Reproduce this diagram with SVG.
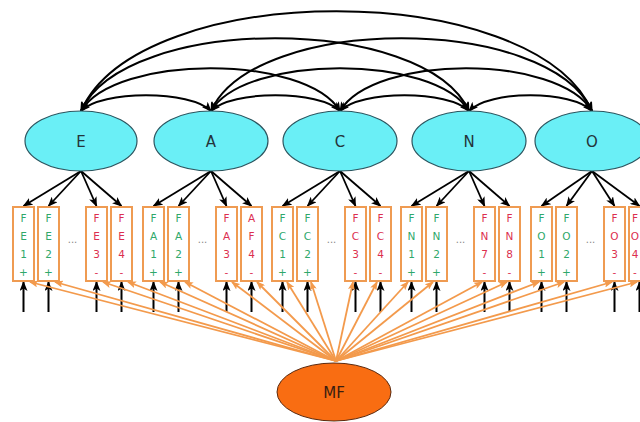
<svg xmlns="http://www.w3.org/2000/svg" width="640" height="422" viewBox="0 0 640 422">
  <defs>
    <marker id="ah" markerUnits="userSpaceOnUse" markerWidth="10" markerHeight="8" refX="9" refY="4" orient="auto-start-reverse">
      <path d="M0,0 L10,4 L0,8 L2.5,4 z" fill="#000"/>
    </marker>
    <marker id="oh" markerUnits="userSpaceOnUse" markerWidth="9" markerHeight="7" refX="8" refY="3.5" orient="auto">
      <path d="M0,0 L9,3.5 L0,7 L2,3.5 z" fill="#f39a4c"/>
    </marker>
    <style>
      .arc{fill:none;stroke:#000;stroke-width:2;marker-start:url(#ah);marker-end:url(#ah)}
      .load{stroke:#000;stroke-width:1.8;marker-end:url(#ah)}
      .err{stroke:#000;stroke-width:2;marker-end:url(#ah)}
      .mf{stroke:#f39a4c;stroke-width:1.8;marker-end:url(#oh)}
      .lat{fill:#6aeff6;stroke:#2c5660;stroke-width:1.2}
      .latt{font-family:"DejaVu Sans",sans-serif;font-size:15px;fill:#24343a;text-anchor:middle}
      .box{fill:#fff;stroke:#ef9b52;stroke-width:2}
      .bt{font-family:"DejaVu Sans",sans-serif;font-size:10.5px;text-anchor:middle}
      .p{fill:#2fa86a}
      .n{fill:#dc2f4f}
      .dots{font-family:"DejaVu Sans",sans-serif;font-size:10px;fill:#888;text-anchor:middle}
    </style>
  </defs>

  <!-- factor correlations -->
  <g id="correlations">
    <path class="arc" d="M81,111 C101,90 191,90 211,111"/>
    <path class="arc" d="M211,111 C231,90 320,90 340,111"/>
    <path class="arc" d="M340,111 C360,90 449,90 469,111"/>
    <path class="arc" d="M469,111 C489,90 572,90 592,111"/>
    <path class="arc" d="M81,111 C115,54 306,54 340,111"/>
    <path class="arc" d="M211,111 C245,54 435,54 469,111"/>
    <path class="arc" d="M340,111 C374,54 558,54 592,111"/>
    <path class="arc" d="M81,111 C125,14 425,14 469,111"/>
    <path class="arc" d="M211,111 C255,14 548,14 592,111"/>
    <path class="arc" d="M81,111 C140,-22 533,-22 592,111"/>
  </g>

  <!-- factor loadings -->
  <g id="loadings">
    <line class="load" x1="81" y1="171" x2="23.5" y2="206"/>
    <line class="load" x1="81" y1="171" x2="48.5" y2="206"/>
    <line class="load" x1="81" y1="171" x2="96.5" y2="206"/>
    <line class="load" x1="81" y1="171" x2="121.5" y2="206"/>
    <line class="load" x1="211" y1="171" x2="153.5" y2="206"/>
    <line class="load" x1="211" y1="171" x2="178.5" y2="206"/>
    <line class="load" x1="211" y1="171" x2="226.5" y2="206"/>
    <line class="load" x1="211" y1="171" x2="251.5" y2="206"/>
    <line class="load" x1="340" y1="171" x2="282.5" y2="206"/>
    <line class="load" x1="340" y1="171" x2="307.5" y2="206"/>
    <line class="load" x1="340" y1="171" x2="355.5" y2="206"/>
    <line class="load" x1="340" y1="171" x2="380.5" y2="206"/>
    <line class="load" x1="469" y1="171" x2="411.5" y2="206"/>
    <line class="load" x1="469" y1="171" x2="436.5" y2="206"/>
    <line class="load" x1="469" y1="171" x2="484.5" y2="206"/>
    <line class="load" x1="469" y1="171" x2="509.5" y2="206"/>
    <line class="load" x1="592" y1="171" x2="541.5" y2="206"/>
    <line class="load" x1="592" y1="171" x2="566.5" y2="206"/>
    <line class="load" x1="592" y1="171" x2="614.5" y2="206"/>
    <line class="load" x1="592" y1="171" x2="639.5" y2="206"/>
  </g>

  <!-- residual terms -->
  <g id="residuals">
    <line class="err" x1="23.5" y1="312" x2="23.5" y2="282"/>
    <line class="err" x1="48.5" y1="312" x2="48.5" y2="282"/>
    <line class="err" x1="96.5" y1="312" x2="96.5" y2="282"/>
    <line class="err" x1="121.5" y1="312" x2="121.5" y2="282"/>
    <line class="err" x1="153.5" y1="312" x2="153.5" y2="282"/>
    <line class="err" x1="178.5" y1="312" x2="178.5" y2="282"/>
    <line class="err" x1="226.5" y1="312" x2="226.5" y2="282"/>
    <line class="err" x1="251.5" y1="312" x2="251.5" y2="282"/>
    <line class="err" x1="282.5" y1="312" x2="282.5" y2="282"/>
    <line class="err" x1="307.5" y1="312" x2="307.5" y2="282"/>
    <line class="err" x1="355.5" y1="312" x2="355.5" y2="282"/>
    <line class="err" x1="380.5" y1="312" x2="380.5" y2="282"/>
    <line class="err" x1="411.5" y1="312" x2="411.5" y2="282"/>
    <line class="err" x1="436.5" y1="312" x2="436.5" y2="282"/>
    <line class="err" x1="484.5" y1="312" x2="484.5" y2="282"/>
    <line class="err" x1="509.5" y1="312" x2="509.5" y2="282"/>
    <line class="err" x1="541.5" y1="312" x2="541.5" y2="282"/>
    <line class="err" x1="566.5" y1="312" x2="566.5" y2="282"/>
    <line class="err" x1="614.5" y1="312" x2="614.5" y2="282"/>
    <line class="err" x1="639.5" y1="312" x2="639.5" y2="282"/>
  </g>

  <!-- method factor paths -->
  <g id="method-paths">
    <line class="mf" x1="336" y1="361" x2="30" y2="282"/>
    <line class="mf" x1="336" y1="361" x2="55" y2="282"/>
    <line class="mf" x1="336" y1="361" x2="103" y2="282"/>
    <line class="mf" x1="336" y1="361" x2="128" y2="282"/>
    <line class="mf" x1="336" y1="361" x2="160" y2="282"/>
    <line class="mf" x1="336" y1="361" x2="185" y2="282"/>
    <line class="mf" x1="336" y1="361" x2="232" y2="282"/>
    <line class="mf" x1="336" y1="361" x2="257" y2="282"/>
    <line class="mf" x1="336" y1="361" x2="287" y2="282"/>
    <line class="mf" x1="336" y1="361" x2="311" y2="282"/>
    <line class="mf" x1="336" y1="361" x2="353" y2="282"/>
    <line class="mf" x1="336" y1="361" x2="377" y2="282"/>
    <line class="mf" x1="336" y1="361" x2="408" y2="282"/>
    <line class="mf" x1="336" y1="361" x2="433" y2="282"/>
    <line class="mf" x1="336" y1="361" x2="482" y2="282"/>
    <line class="mf" x1="336" y1="361" x2="507" y2="282"/>
    <line class="mf" x1="336" y1="361" x2="539" y2="282"/>
    <line class="mf" x1="336" y1="361" x2="564" y2="282"/>
    <line class="mf" x1="336" y1="361" x2="612" y2="282"/>
    <line class="mf" x1="336" y1="361" x2="637" y2="282"/>
  </g>

  <!-- latent factors -->
  <g id="E"><ellipse class="lat" cx="81" cy="141" rx="56" ry="30"/><text class="latt" x="81" y="147">E</text></g>
  <g id="A"><ellipse class="lat" cx="211" cy="141" rx="57" ry="30"/><text class="latt" x="211" y="147">A</text></g>
  <g id="C"><ellipse class="lat" cx="340" cy="141" rx="57" ry="30"/><text class="latt" x="340" y="147">C</text></g>
  <g id="N"><ellipse class="lat" cx="469" cy="141" rx="57" ry="30"/><text class="latt" x="469" y="147">N</text></g>
  <g id="O"><ellipse class="lat" cx="592" cy="141" rx="57" ry="30"/><text class="latt" x="592" y="147">O</text></g>

  <!-- indicators -->
  <g id="FE1"><rect class="box" x="13" y="207" width="21" height="74"/><text class="bt p" x="23.5"><tspan y="222">F</tspan><tspan x="23.5" y="240">E</tspan><tspan x="23.5" y="258">1</tspan><tspan x="23.5" y="276">+</tspan></text></g>
  <g id="FE2"><rect class="box" x="38" y="207" width="21" height="74"/><text class="bt p" x="48.5"><tspan y="222">F</tspan><tspan x="48.5" y="240">E</tspan><tspan x="48.5" y="258">2</tspan><tspan x="48.5" y="276">+</tspan></text></g>
  <text class="dots" x="72.5" y="243">...</text>
  <g id="FE3"><rect class="box" x="86" y="207" width="21" height="74"/><text class="bt n" x="96.5"><tspan y="222">F</tspan><tspan x="96.5" y="240">E</tspan><tspan x="96.5" y="258">3</tspan><tspan x="96.5" y="276">-</tspan></text></g>
  <g id="FE4"><rect class="box" x="111" y="207" width="21" height="74"/><text class="bt n" x="121.5"><tspan y="222">F</tspan><tspan x="121.5" y="240">E</tspan><tspan x="121.5" y="258">4</tspan><tspan x="121.5" y="276">-</tspan></text></g>

  <g id="FA1"><rect class="box" x="143" y="207" width="21" height="74"/><text class="bt p" x="153.5"><tspan y="222">F</tspan><tspan x="153.5" y="240">A</tspan><tspan x="153.5" y="258">1</tspan><tspan x="153.5" y="276">+</tspan></text></g>
  <g id="FA2"><rect class="box" x="168" y="207" width="21" height="74"/><text class="bt p" x="178.5"><tspan y="222">F</tspan><tspan x="178.5" y="240">A</tspan><tspan x="178.5" y="258">2</tspan><tspan x="178.5" y="276">+</tspan></text></g>
  <text class="dots" x="202.5" y="243">...</text>
  <g id="FA3"><rect class="box" x="216" y="207" width="21" height="74"/><text class="bt n" x="226.5"><tspan y="222">F</tspan><tspan x="226.5" y="240">A</tspan><tspan x="226.5" y="258">3</tspan><tspan x="226.5" y="276">-</tspan></text></g>
  <g id="FA4"><rect class="box" x="241" y="207" width="21" height="74"/><text class="bt n" x="251.5"><tspan y="222">A</tspan><tspan x="251.5" y="240">F</tspan><tspan x="251.5" y="258">4</tspan><tspan x="251.5" y="276">-</tspan></text></g>

  <g id="FC1"><rect class="box" x="272" y="207" width="21" height="74"/><text class="bt p" x="282.5"><tspan y="222">F</tspan><tspan x="282.5" y="240">C</tspan><tspan x="282.5" y="258">1</tspan><tspan x="282.5" y="276">+</tspan></text></g>
  <g id="FC2"><rect class="box" x="297" y="207" width="21" height="74"/><text class="bt p" x="307.5"><tspan y="222">F</tspan><tspan x="307.5" y="240">C</tspan><tspan x="307.5" y="258">2</tspan><tspan x="307.5" y="276">+</tspan></text></g>
  <text class="dots" x="331.5" y="243">...</text>
  <g id="FC3"><rect class="box" x="345" y="207" width="21" height="74"/><text class="bt n" x="355.5"><tspan y="222">F</tspan><tspan x="355.5" y="240">C</tspan><tspan x="355.5" y="258">3</tspan><tspan x="355.5" y="276">-</tspan></text></g>
  <g id="FC4"><rect class="box" x="370" y="207" width="21" height="74"/><text class="bt n" x="380.5"><tspan y="222">F</tspan><tspan x="380.5" y="240">C</tspan><tspan x="380.5" y="258">4</tspan><tspan x="380.5" y="276">-</tspan></text></g>

  <g id="FN1"><rect class="box" x="401" y="207" width="21" height="74"/><text class="bt p" x="411.5"><tspan y="222">F</tspan><tspan x="411.5" y="240">N</tspan><tspan x="411.5" y="258">1</tspan><tspan x="411.5" y="276">+</tspan></text></g>
  <g id="FN2"><rect class="box" x="426" y="207" width="21" height="74"/><text class="bt p" x="436.5"><tspan y="222">F</tspan><tspan x="436.5" y="240">N</tspan><tspan x="436.5" y="258">2</tspan><tspan x="436.5" y="276">+</tspan></text></g>
  <text class="dots" x="460.5" y="243">...</text>
  <g id="FN7"><rect class="box" x="474" y="207" width="21" height="74"/><text class="bt n" x="484.5"><tspan y="222">F</tspan><tspan x="484.5" y="240">N</tspan><tspan x="484.5" y="258">7</tspan><tspan x="484.5" y="276">-</tspan></text></g>
  <g id="FN8"><rect class="box" x="499" y="207" width="21" height="74"/><text class="bt n" x="509.5"><tspan y="222">F</tspan><tspan x="509.5" y="240">N</tspan><tspan x="509.5" y="258">8</tspan><tspan x="509.5" y="276">-</tspan></text></g>

  <g id="FO1"><rect class="box" x="531" y="207" width="21" height="74"/><text class="bt p" x="541.5"><tspan y="222">F</tspan><tspan x="541.5" y="240">O</tspan><tspan x="541.5" y="258">1</tspan><tspan x="541.5" y="276">+</tspan></text></g>
  <g id="FO2"><rect class="box" x="556" y="207" width="21" height="74"/><text class="bt p" x="566.5"><tspan y="222">F</tspan><tspan x="566.5" y="240">O</tspan><tspan x="566.5" y="258">2</tspan><tspan x="566.5" y="276">+</tspan></text></g>
  <text class="dots" x="590.5" y="243">...</text>
  <g id="FO3"><rect class="box" x="604" y="207" width="21" height="74"/><text class="bt n" x="614.5"><tspan y="222">F</tspan><tspan x="614.5" y="240">O</tspan><tspan x="614.5" y="258">3</tspan><tspan x="614.5" y="276">-</tspan></text></g>
  <!-- last indicator runs past the right edge; its letters are nudged inward -->
  <g id="FO4"><rect class="box" x="629" y="207" width="21" height="74"/><text class="bt n" x="635"><tspan y="222">F</tspan><tspan x="635" y="240">O</tspan><tspan x="635" y="258">4</tspan><tspan x="635" y="276">-</tspan></text></g>

  <!-- method factor -->
  <g id="MF"><ellipse cx="334" cy="392" rx="57" ry="29" fill="#f96d12" stroke="#5a2a10" stroke-width="1"/><text x="334" y="398" font-family="DejaVu Sans, sans-serif" font-size="15" fill="#3a1e10" text-anchor="middle">MF</text></g>
</svg>
